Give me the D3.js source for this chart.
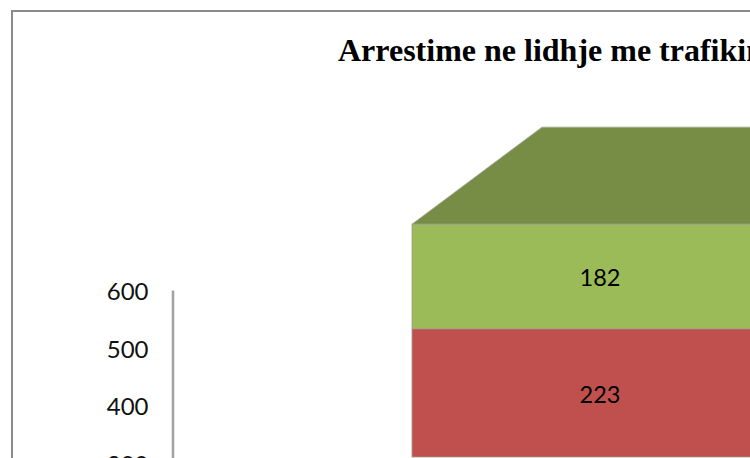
<!DOCTYPE html>
<html>
<head>
<meta charset="utf-8">
<script src="https://d3js.org/d3.v7.min.js"></script>
<style>
  html, body { margin: 0; padding: 0; background: #fff; overflow: hidden; }
  svg { display: block; }
</style>
</head>
<body>
<div id="chart"></div>
<script>
// values
const titleText = "Arrestime ne lidhje me trafikim";
const categories = ["Arrestime"];
const seriesNames = ["red", "green"];
const redValues = [223];
const greenValues = [182];
const tickValues = [300, 400, 500, 600];

const w = 750;
const h = 458;

const svg = d3.select("#chart")
   .append("svg")
   .attr("width", w)
   .attr("height", h);

svg.append("rect")
   .attr("width", w)
   .attr("height", h)
   .attr("fill", "white");

// outer chart frame, runs off the right and bottom of the picture
svg.append("rect")
   .attr("x", 12)
   .attr("y", 11)
   .attr("width", 900)
   .attr("height", 800)
   .attr("fill", "white")
   .attr("stroke", "#8a8a8a")
   .attr("stroke-width", 2);

svg.append("text")
   .attr("x", 338)
   .attr("y", 61)
   .attr("font-family", "'Liberation Serif', serif")
   .attr("font-weight", "bold")
   .attr("font-size", 32)
   .attr("fill", "black")
   .text(titleText);

// y axis
const yScale = d3.scaleLinear()
   .domain([0, 600])
   .range([635, 290]);

const yAxis = d3.axisLeft(yScale)
   .tickValues(tickValues)
   .tickSize(0)
   .tickPadding(24);

const yG = svg.append("g")
   .attr("transform", "translate(172.5,0)")
   .call(yAxis);

yG.select(".domain")
   .attr("stroke", "#a3a3a3")
   .attr("stroke-width", 2.6);

yG.selectAll("text")
   .attr("dy", "0.4em")
   .attr("font-family", "Lato, sans-serif")
   .attr("font-size", 24)
   .attr("fill", "#111");

// bars, the front face is pushed down from the axis by the 3d view
const xScale = d3.scaleBand()
   .domain(categories)
   .range([412, 788]);

const rows = categories.map((c, i) => ({ category: c, red: redValues[i], green: greenValues[i] }));
const stacked = d3.stack().keys(seriesNames)(rows);

const frontShift = 457 - yScale(0);
const depthX = 130;
const depthY = 97;
const fills = { red: "#c0504d", green: "#9bbb59" };

const bars = svg.append("g")
   .attr("transform", `translate(0,${frontShift})`);

stacked.forEach((s) => {
   s.forEach((d) => {
      const x0 = xScale(d.data.category);
      const bw = xScale.bandwidth();
      bars.append("rect")
         .attr("x", x0)
         .attr("y", yScale(d[1]))
         .attr("width", bw)
         .attr("height", yScale(d[0]) - yScale(d[1]))
         .attr("fill", fills[s.key])
         .attr("stroke", "#a09a8f")
         .attr("stroke-width", 0.8);

      bars.append("text")
         .attr("x", x0 + bw / 2)
         .attr("y", (yScale(d[0]) + yScale(d[1])) / 2)
         .attr("dy", "0.42em")
         .attr("text-anchor", "middle")
         .attr("font-family", "Lato, sans-serif")
         .attr("font-size", 23.5)
         .attr("fill", "black")
         .text(d[1] - d[0]);
   });
});

// top face of the stack
const topY = yScale(d3.max(stacked[stacked.length - 1], (d) => d[1]));
const x0 = xScale(categories[0]);
const x1 = x0 + xScale.bandwidth();
bars.append("path")
   .attr("d", d3.line()([
      [x0, topY],
      [x0 + depthX, topY - depthY],
      [x1 + depthX, topY - depthY],
      [x1, topY]
   ]) + "Z")
   .attr("fill", "#778c45")
   .attr("stroke", "#a3a89a")
   .attr("stroke-width", 0.8);

</script>
</body>
</html>
